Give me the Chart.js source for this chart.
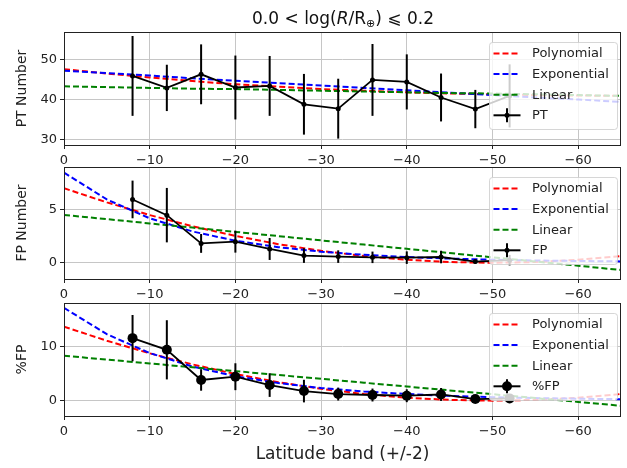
<!DOCTYPE html>
<html><head><meta charset="utf-8">
<script src="https://cdn.jsdelivr.net/npm/chart.js@4.4.1/dist/chart.umd.min.js"></script>
<style>
html,body{margin:0;padding:0;background:#fff;}
#wrap{position:relative;width:627px;height:468px;background:#fff;}
canvas{position:absolute;left:0;top:0;}
</style></head><body>
<div id="wrap">
<canvas id="c1" width="627" height="468"></canvas>
<canvas id="c2" width="627" height="468"></canvas>
<canvas id="c3" width="627" height="468"></canvas>
</div>
<script>
// ---------- DATA ----------
const titleText = ["0.0 < log(", "R", "/R", "⊕", ") ⩽ 0.2"];
const xTitle = "Latitude band (+/-2)";
const xTicks = [0, -10, -20, -30, -40, -50, -60];
const xTickLabels = ["0", "−10", "−20", "−30", "−40", "−50", "−60"];
const latitudes = [-8, -12, -16, -20, -24, -28, -32, -36, -40, -44, -48, -52];

const ptValues = [46.0, 43.0, 46.4, 43.1, 43.5, 38.9, 37.8, 45.0, 44.5, 40.6, 37.7, 41.0];
const ptErrors = [10.0, 5.8, 7.5, 8.0, 7.5, 7.6, 7.5, 9.0, 6.9, 6.0, 4.8, 7.9];
const fpValues = [6.0, 4.5, 1.8, 1.97, 1.27, 0.64, 0.54, 0.47, 0.44, 0.5, 0.06, 0.2];
const fpErrors = [1.8, 2.6, 0.9, 1.05, 1.05, 0.7, 0.6, 0.55, 0.6, 0.6, 0.2, 0.5];
const pctValues = [11.57, 9.4, 3.8, 4.4, 2.85, 1.73, 1.18, 1.0, 0.87, 1.1, 0.25, 0.37];
const pctErrors = [4.3, 5.5, 2.0, 2.5, 2.2, 2.1, 1.2, 1.2, 1.2, 1.2, 0.5, 0.8];

const fitX = [0, -5, -10, -15, -20, -25, -30, -35, -40, -45, -50, -55, -60, -65];
const ptPoly = [47.7, 46.6, 45.6, 44.7, 43.9, 43.3, 42.7, 42.3, 41.9, 41.6, 41.4, 41.2, 41.1, 41.0];
const ptExp  = [47.3, 46.7, 46.1, 45.4, 44.8, 44.2, 43.6, 43.0, 42.4, 41.8, 41.2, 40.6, 40.1, 39.5];
const ptLin  = [43.4, 43.2, 43.0, 42.8, 42.7, 42.5, 42.3, 42.1, 41.9, 41.7, 41.6, 41.4, 41.2, 41.0];
const fpPoly = [7.07, 5.72, 4.51, 3.44, 2.52, 1.73, 1.09, 0.59, 0.24, 0.02, -0.05, 0.02, 0.24, 0.59];
const fpExp  = [8.56, 6.00, 4.20, 2.94, 2.06, 1.44, 1.01, 0.71, 0.50, 0.35, 0.24, 0.17, 0.12, 0.08];
const fpLin  = [4.52, 4.12, 3.71, 3.31, 2.90, 2.50, 2.09, 1.69, 1.28, 0.88, 0.47, 0.07, -0.33, -0.74];
const pctPoly = [13.7, 11.09, 8.75, 6.69, 4.90, 3.39, 2.15, 1.19, 0.50, 0.09, -0.05, 0.09, 0.50, 1.19];
const pctExp  = [17.2, 12.3, 8.80, 6.29, 4.50, 3.22, 2.30, 1.65, 1.18, 0.84, 0.60, 0.43, 0.31, 0.22];
const pctLin  = [8.3, 7.58, 6.87, 6.15, 5.44, 4.72, 4.01, 3.29, 2.58, 1.86, 1.15, 0.43, -0.28, -1.0];

const fitLabels = ["Polynomial", "Exponential", "Linear"];
const ptYTicks = [30, 40, 50], ptYTickLabels = ["30", "40", "50"];
const fpYTicks = [0, 5], fpYTickLabels = ["0", "5"];
const pctYTicks = [0, 10], pctYTickLabels = ["0", "10"];

// ---------- RENDERING ----------
const FONT = "DejaVu Sans";
const TXT = "#222";
const fitColors = ["#ff0000", "#0000ff", "#008000"];

function pts(xs, ys) { return xs.map((x, i) => ({x: x, y: ys[i]})); }

const errorBarPlugin = {
  id: "errbars",
  afterDatasetsDraw(chart) {
    const o = chart.options.plugins.errbars;
    const xs = chart.scales.x, ys = chart.scales.y, ctx = chart.ctx, ca = chart.chartArea;
    ctx.save();
    ctx.beginPath(); ctx.rect(ca.left, ca.top, ca.right - ca.left, ca.bottom - ca.top); ctx.clip();
    ctx.strokeStyle = "#000"; ctx.lineWidth = 2;
    o.values.forEach((v, i) => {
      const x = xs.getPixelForValue(o.xs[i]);
      ctx.beginPath();
      ctx.moveTo(x, ys.getPixelForValue(v + o.errors[i]));
      ctx.lineTo(x, ys.getPixelForValue(v - o.errors[i]));
      ctx.stroke();
    });
    ctx.restore();
  }
};

const framePlugin = {
  id: "frame",
  afterDraw(chart) {
    const ca = chart.chartArea, ctx = chart.ctx;
    const l = Math.round(ca.left) + 0.5, t = Math.round(ca.top) + 0.5;
    const r = Math.round(ca.right) - 0.5, b = Math.round(ca.bottom) + 0.5;
    ctx.save();
    ctx.strokeStyle = "#222"; ctx.lineWidth = 1;
    ctx.strokeRect(l, t, r - l, b - t);
    ctx.restore();
  }
};

const legendPlugin = {
  id: "boxlegend",
  afterDraw(chart) {
    const o = chart.options.plugins.boxlegend;
    const ca = chart.chartArea, ctx = chart.ctx;
    const w = 128, h = 87;
    const bx = ca.right - 4 - w, by = ca.top + 10;
    ctx.save();
    ctx.beginPath();
    ctx.roundRect(bx + 0.5, by + 0.5, w, h, 3);
    ctx.fillStyle = "rgba(255,255,255,0.8)";
    ctx.fill();
    ctx.strokeStyle = "rgba(204,204,204,0.8)";
    ctx.lineWidth = 1;
    ctx.stroke();
    const x0 = bx + 4.5, x1 = bx + 31.5, tx = bx + 43;
    ctx.font = "13px '" + FONT + "'";
    ctx.textBaseline = "middle";
    ctx.textAlign = "left";
    o.labels.forEach((lab, i) => {
      const y = by + 11.5 + i * 20.6;
      ctx.strokeStyle = o.colors[i];
      ctx.lineWidth = 2;
      ctx.setLineDash(i < 3 ? [6, 3] : []);
      ctx.beginPath(); ctx.moveTo(x0, y); ctx.lineTo(x1, y); ctx.stroke();
      ctx.setLineDash([]);
      if (i === 3) {
        const cx = (x0 + x1) / 2;
        ctx.beginPath(); ctx.moveTo(cx, y - 7); ctx.lineTo(cx, y + 7); ctx.stroke();
        ctx.fillStyle = "#000";
        ctx.beginPath(); ctx.arc(cx, y, o.radius, 0, Math.PI * 2); ctx.fill();
      }
      ctx.fillStyle = TXT;
      ctx.fillText(lab, tx, y + 0.5);
    });
    ctx.restore();
  }
};

const titlePlugin = {
  id: "mathtitle",
  afterDraw(chart) {
    const o = chart.options.plugins.mathtitle;
    if (!o || !o.show) return;
    const ctx = chart.ctx;
    const big = "17px '" + FONT + "'", ital = "italic 17px '" + FONT + "'", small = "11px '" + FONT + "'";
    const segs = [
      {t: titleText[0], f: big, dy: 0},
      {t: titleText[1], f: ital, dy: 0},
      {t: titleText[2], f: big, dy: 0},
      {t: titleText[3], f: small, dy: 3},
      {t: titleText[4], f: big, dy: 0}
    ];
    ctx.save();
    let total = 0;
    segs.forEach(s => { ctx.font = s.f; s.w = ctx.measureText(s.t).width; total += s.w; });
    let x = 343 - total / 2;
    const base = 24;
    ctx.fillStyle = "#111";
    ctx.textBaseline = "alphabetic";
    ctx.textAlign = "left";
    segs.forEach(s => { ctx.font = s.f; ctx.fillText(s.t, x, base + s.dy); x += s.w; });
    ctx.restore();
  }
};

function makePanel(id, p) {
  const datasets = [
    {label: p.name, data: pts(latitudes, p.values), showLine: true, borderColor: "#000", backgroundColor: "#000",
     borderWidth: 1.8, pointRadius: p.radius, pointBorderWidth: 0, pointBackgroundColor: "#000"},
    {label: fitLabels[2], data: pts(fitX, p.lin), showLine: true, borderColor: fitColors[2], borderWidth: 2, borderDash: [6, 3], pointRadius: 0},
    {label: fitLabels[1], data: pts(fitX, p.exp), showLine: true, borderColor: fitColors[1], borderWidth: 2, borderDash: [6, 3], pointRadius: 0},
    {label: fitLabels[0], data: pts(fitX, p.poly), showLine: true, borderColor: fitColors[0], borderWidth: 2, borderDash: [6, 3], pointRadius: 0}
  ];
  return new Chart(document.getElementById(id), {
    type: "scatter",
    data: {datasets: datasets},
    plugins: [errorBarPlugin, framePlugin, legendPlugin, titlePlugin],
    options: {
      responsive: false, animation: false, events: [],
      layout: {padding: {top: p.padTop, bottom: p.padBottom, left: 0, right: 6}},
      plugins: {
        legend: {display: false}, tooltip: {enabled: false},
        errbars: {xs: latitudes, values: p.values, errors: p.errors},
        boxlegend: {labels: fitLabels.concat([p.name]), colors: fitColors.concat(["#000"]), radius: p.legendRadius},
        mathtitle: {show: !!p.showTitle}
      },
      scales: {
        x: {
          type: "linear", min: -65, max: 0, reverse: true,
          afterBuildTicks: s => { s.ticks = xTicks.map(v => ({value: v})); },
          afterFit: s => { s.height = p.xHeight; },
          ticks: {autoSkip: false, maxRotation: 0, padding: 4, color: TXT, font: {family: FONT, size: 13},
                  callback: v => xTickLabels[xTicks.indexOf(v)]},
          grid: {color: "#c6c6c6", lineWidth: 1, tickLength: 4, tickColor: "#222", drawTicks: true},
          border: {display: false},
          title: {display: !!p.xTitle, text: p.xTitle || "", color: TXT, font: {family: FONT, size: 17}, padding: {top: 0, bottom: 3}}
        },
        y: {
          type: "linear", min: p.yMin, max: p.yMax,
          afterBuildTicks: s => { s.ticks = p.yTicks.map(v => ({value: v})); },
          afterFit: s => { s.width = 64; },
          ticks: {autoSkip: false, padding: 3, color: TXT, font: {family: FONT, size: 13},
                  callback: v => p.yTickLabels[p.yTicks.indexOf(v)]},
          grid: {color: "#c6c6c6", lineWidth: 1, tickLength: 4, tickColor: "#222", drawTicks: true},
          border: {display: false},
          title: {display: true, text: p.yTitle, color: TXT, font: {family: FONT, size: 14}, padding: {top: 14, bottom: 0}}
        }
      }
    }
  });
}

makePanel("c1", {name: "PT", values: ptValues, errors: ptErrors, poly: ptPoly, exp: ptExp, lin: ptLin,
  yMin: 28.7, yMax: 57.0, yTicks: ptYTicks, yTickLabels: ptYTickLabels, yTitle: "PT Number",
  radius: 2.5, legendRadius: 2.5, padTop: 32, padBottom: 468 - 145 - 24, xHeight: 24, showTitle: true});
makePanel("c2", {name: "FP", values: fpValues, errors: fpErrors, poly: fpPoly, exp: fpExp, lin: fpLin,
  yMin: -1.6, yMax: 9.1, yTicks: fpYTicks, yTickLabels: fpYTickLabels, yTitle: "FP Number",
  radius: 2.5, legendRadius: 2.5, padTop: 167, padBottom: 468 - 279 - 24, xHeight: 24});
makePanel("c3", {name: "%FP", values: pctValues, errors: pctErrors, poly: pctPoly, exp: pctExp, lin: pctLin,
  yMin: -2.9, yMax: 18.1, yTicks: pctYTicks, yTickLabels: pctYTickLabels, yTitle: "%FP",
  radius: 5, legendRadius: 5, padTop: 303, padBottom: 0, xHeight: 52, xTitle: xTitle});
</script>
</body></html>
